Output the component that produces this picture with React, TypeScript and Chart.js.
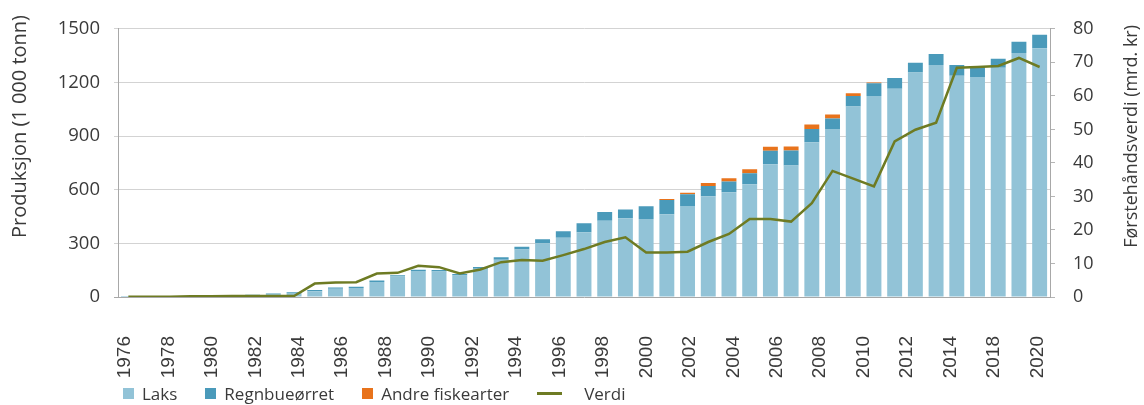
import React, { useEffect, useRef } from 'react';
import { Chart, registerables } from 'chart.js';

Chart.register(...registerables);

const years = [
  '1976', '1977', '1978', '1979', '1980', '1981', '1982', '1983', '1984',
  '1985', '1986', '1987', '1988', '1989', '1990', '1991', '1992', '1993', '1994',
  '1995', '1996', '1997', '1998', '1999', '2000', '2001', '2002', '2003', '2004',
  '2005', '2006', '2007', '2008', '2009', '2010', '2011', '2012', '2013', '2014',
  '2015', '2016', '2017', '2018', '2019', '2020',
];

// Tick labels exactly as printed under the axis (evenly spread, 2016 absent)
const tickLabels = [
  '1976', '1978', '1980', '1982', '1984', '1986', '1988', '1990', '1992', '1994', '1996',
  '1998', '2000', '2002', '2004', '2006', '2008', '2010', '2012', '2014', '2018', '2020',
];

const laks = [
  1, 1, 2, 3, 4, 8, 10, 17, 22,
  32, 46, 50, 84, 114, 146, 143, 120, 158, 208,
  266, 301, 332, 362, 426, 441, 436, 463, 509, 564,
  586, 630, 742, 735, 865, 940, 1066, 1124, 1165, 1255,
  1297, 1238, 1230, 1282, 1365, 1391,
];

const regnbueorret = [
  2, 2, 2, 2, 2, 3, 3, 3, 4,
  7, 7, 7, 8, 7, 7, 8, 8, 10, 14,
  15, 22, 36, 51, 49, 48, 71, 80, 66, 57,
  60, 62, 76, 85, 75, 58, 58, 72, 60, 55,
  62, 60, 58, 50, 63, 76,
];

const andreFiskearter = [
  0, 0, 0, 0, 0, 0, 0, 0, 0,
  0, 0, 0, 0, 0, 0, 0, 0, 0, 0,
  0, 0, 0, 0, 0, 0, 0, 5, 8, 16,
  18, 23, 23, 22, 25, 22, 15, 3, 0, 0,
  0, 0, 0, 0, 0, 0,
];

const verdi = [
  0.1, 0.1, 0.1, 0.2, 0.2, 0.3, 0.3, 0.3, 0.3,
  4.0, 4.3, 4.4, 7.0, 7.2, 9.3, 8.9, 7.0, 8.2, 10.4,
  11.0, 10.8, 12.5, 14.3, 16.4, 17.8, 13.3, 13.3, 13.5, 16.4,
  18.8, 23.3, 23.3, 22.5, 28.0, 37.6, 35.3, 33.0, 46.4, 49.9,
  52.0, 68.4, 68.6, 68.9, 71.3, 68.6,
];

const seriesNames = ['Laks', 'Regnbueørret', 'Andre fiskearter', 'Verdi'];
const seriesColors = ['#92c3d7', '#4a9aba', '#e8731c', '#6e7b23'];
const leftTitle = 'Produksjon (1 000 tonn)';
const rightTitle = 'Førstehåndsverdi (mrd. kr)';

const TEXT = '#3a3a3a';

const axisTitles = {
  id: 'axisTitles',
  afterDraw(chart: any) {
    const ctx = chart.ctx;
    ctx.save();
    ctx.fillStyle = TEXT;
    ctx.textBaseline = 'middle';
    ctx.textAlign = 'right';
    ctx.font = '20px "Open Sans"';
    ctx.translate(20, 15);
    ctx.rotate(-Math.PI / 2);
    ctx.fillText(leftTitle, 0, 0);
    ctx.restore();

    ctx.save();
    ctx.fillStyle = TEXT;
    ctx.textBaseline = 'middle';
    ctx.textAlign = 'right';
    ctx.font = '18px "Open Sans"';
    ctx.translate(1132, 25);
    ctx.rotate(-Math.PI / 2);
    ctx.fillText(rightTitle, 0, 0);
    ctx.restore();
  },
};

export default function App() {
  const canvasRef = useRef<HTMLCanvasElement | null>(null);

  useEffect(() => {
    const canvas = canvasRef.current;
    if (!canvas) return;
    const chart = new Chart(canvas, {
      type: 'bar',
      data: {
        labels: years,
        datasets: [
          {
            type: 'line',
            label: seriesNames[3],
            data: verdi,
            xAxisID: 'x',
            yAxisID: 'y1',
            borderColor: seriesColors[3],
            backgroundColor: seriesColors[3],
            borderWidth: 2.5,
            pointRadius: 0,
            tension: 0,
            fill: false,
            order: 0,
          } as any,
          {
            label: seriesNames[0],
            data: laks,
            xAxisID: 'x',
            yAxisID: 'y',
            backgroundColor: seriesColors[0],
            borderWidth: 0,
            categoryPercentage: 1,
            barPercentage: 0.72,
            order: 1,
          },
          {
            label: seriesNames[1],
            data: regnbueorret,
            xAxisID: 'x',
            yAxisID: 'y',
            backgroundColor: seriesColors[1],
            borderWidth: 0,
            categoryPercentage: 1,
            barPercentage: 0.72,
            order: 1,
          },
          {
            label: seriesNames[2],
            data: andreFiskearter,
            xAxisID: 'x',
            yAxisID: 'y',
            backgroundColor: seriesColors[2],
            borderWidth: 0,
            categoryPercentage: 1,
            barPercentage: 0.72,
            order: 1,
          },
        ],
      },
      options: {
        animation: false,
        responsive: true,
        maintainAspectRatio: false,
        devicePixelRatio: 1,
        layout: { padding: { top: 20, left: 0, right: 0, bottom: 0 } },
        plugins: {
          legend: { display: false },
          tooltip: { enabled: false },
        },
        scales: {
          x: {
            type: 'category',
            stacked: true,
            display: false,
            grid: { display: false },
          },
          xl: {
            type: 'linear',
            position: 'bottom',
            bounds: 'data',
            offset: false,
            min: -0.161,
            max: 21.288,
            afterBuildTicks: (s: any) => {
              s.ticks = tickLabels.map((_, i) => ({ value: i }));
            },
            afterFit: (s: any) => {
              s.height = 108;
            },
            grid: { display: false, drawTicks: false, offset: false },
            border: { display: false },
            ticks: {
              autoSkip: false,
              minRotation: 90,
              maxRotation: 90,
              padding: 39,
              color: TEXT,
              font: { family: '"Liberation Sans", Arial, sans-serif', size: 19 },
              callback: (v: any) => {
                const i = Math.round(Number(v));
                return tickLabels[i] ?? '';
              },
            },
          } as any,
          y: {
            type: 'linear',
            position: 'left',
            stacked: true,
            min: 0,
            max: 1500,
            afterFit: (s: any) => {
              s.width = 118;
            },
            ticks: {
              stepSize: 300,
              padding: 14,
              color: TEXT,
              font: { family: '"Open Sans"', size: 18.5 },
              callback: (v: any) => String(v),
            },
            grid: {
              color: (c: any) => (c.tick && c.tick.value === 0 ? '#a8a8a8' : '#d3d3d3'),
              tickLength: 4,
              lineWidth: 1,
            },
            border: { color: '#a8a8a8', width: 1 },
          },
          y1: {
            type: 'linear',
            position: 'right',
            min: 0,
            max: 80,
            afterFit: (s: any) => {
              s.width = 94;
            },
            ticks: {
              stepSize: 10,
              padding: 18,
              color: TEXT,
              font: { family: '"Open Sans"', size: 18 },
              callback: (v: any) => String(v),
            },
            grid: { drawOnChartArea: false, tickLength: 5, color: '#b5b5b5' },
            border: { color: '#a8a8a8', width: 1 },
          },
        },
      } as any,
      plugins: [axisTitles],
    });
    return () => chart.destroy();
  }, []);

  return (
    <div style={{ position: 'absolute', left: 0, top: 0, width: 1144, height: 405, background: '#fff' }}>
      <div style={{ position: 'absolute', left: 0, top: 0, width: 1144, height: 405 }}>
        <canvas ref={canvasRef} />
      </div>
      <div
        style={{
          position: 'absolute',
          left: 123,
          top: 381,
          height: 24,
          display: 'flex',
          alignItems: 'center',
          fontFamily: '"Open Sans", sans-serif',
          fontSize: 17,
          color: TEXT,
          whiteSpace: 'nowrap',
        }}
      >
        {seriesNames.map((name, i) => (
          <div key={name} style={{ display: 'flex', alignItems: 'center', marginRight: 28 }}>
            {i < 3 ? (
              <span style={{ display: 'inline-block', width: 11, height: 11, background: seriesColors[i], marginRight: 8 }} />
            ) : (
              <span style={{ display: 'inline-block', width: 25, height: 3, background: seriesColors[i], marginRight: 22 }} />
            )}
            <span>{name}</span>
          </div>
        ))}
      </div>
    </div>
  );
}
